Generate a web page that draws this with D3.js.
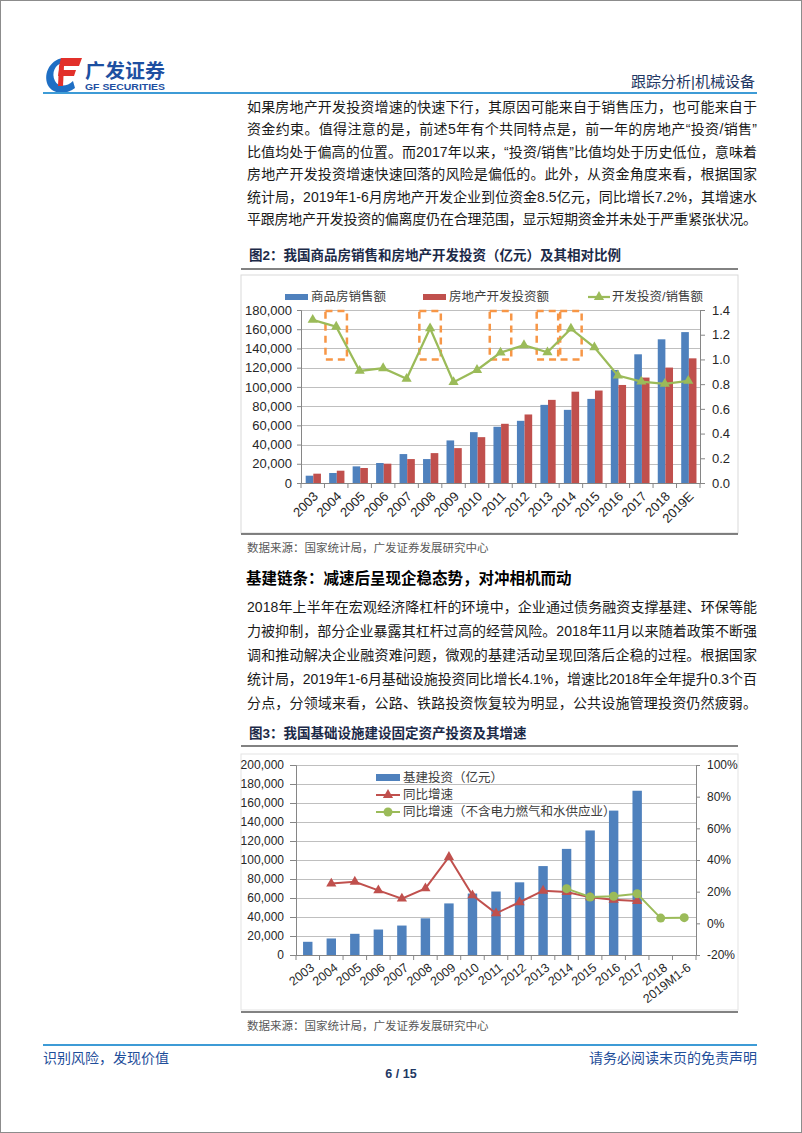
<!DOCTYPE html>
<html>
<head>
<meta charset="utf-8">
<script src="https://cdn.jsdelivr.net/npm/d3@7"></script>
<style>
  html, body { margin: 0; padding: 0; background: #fff; }
  svg text { font-family: "Liberation Sans", Arial, "Noto Sans CJK SC", sans-serif; }
</style>
</head>
<body>
<div id="page"></div>
<script>
// 图2 数据：商品房销售额、房地产开发投资额（亿元）及 投资/销售 比值
const years2 = ['2003','2004','2005','2006','2007','2008','2009','2010','2011','2012','2013','2014','2015','2016','2017','2018','2019E'];
const sales2 = [7600, 10400, 17300, 20800, 30100, 24900, 44300, 52900, 58500, 64700, 81300, 76100, 87500, 117600, 133900, 149500, 157000];
const invest2 = [9700, 12800, 15600, 20100, 24900, 31100, 36300, 47700, 61600, 71300, 86500, 95000, 96200, 102000, 109700, 120100, 129700];
const ratio2 = [1.32, 1.265, 0.907, 0.929, 0.843, 1.252, 0.816, 0.915, 1.055, 1.115, 1.058, 1.249, 1.098, 0.870, 0.821, 0.802, 0.827];
const boxYears2 = ['2004','2008','2011','2013','2014'];
const boxRange2 = [1.0, 1.4];
const ticksL2 = [0, 20000, 40000, 60000, 80000, 100000, 120000, 140000, 160000, 180000];
const ticksR2 = [0, 0.2, 0.4, 0.6, 0.8, 1.0, 1.2, 1.4];

// 图3 数据：基建投资（亿元）与同比增速（%）
const years3 = ['2003','2004','2005','2006','2007','2008','2009','2010','2011','2012','2013','2014','2015','2016','2017','2018','2019M1-6'];
const infra3 = [13900, 17400, 22300, 26800, 31000, 38600, 54300, 64700, 66800, 76500, 93600, 111700, 131100, 152000, 172900, null, null];
const yoy3 = [null, 25.1, 26.3, 20.8, 15.6, 22.1, 41.9, 17.7, 6.3, 13.3, 20.6, 19.8, 16.4, 14.9, 14.1, null, null];
const yoyEx3 = [null, null, null, null, null, null, null, null, null, null, null, 21.9, 16.6, 17.1, 18.7, 3.3, 3.6];
const ticksL3 = [0, 20000, 40000, 60000, 80000, 100000, 120000, 140000, 160000, 180000, 200000];
const ticksR3 = [-20, 0, 20, 40, 60, 80, 100];

// 正文
const para1 = [
  '如果房地产开发投资增速的快速下行，其原因可能来自于销售压力，也可能来自于',
  '资金约束。值得注意的是，前述5年有个共同特点是，前一年的房地产“投资/销售”',
  '比值均处于偏高的位置。而2017年以来，“投资/销售”比值均处于历史低位，意味着',
  '房地产开发投资增速快速回落的风险是偏低的。此外，从资金角度来看，根据国家',
  '统计局，2019年1-6月房地产开发企业到位资金8.5亿元，同比增长7.2%，其增速水',
  '平跟房地产开发投资的偏离度仍在合理范围，显示短期资金并未处于严重紧张状况。'
];
const para2 = [
  '2018年上半年在宏观经济降杠杆的环境中，企业通过债务融资支撑基建、环保等能',
  '力被抑制，部分企业暴露其杠杆过高的经营风险。2018年11月以来随着政策不断强',
  '调和推动解决企业融资难问题，微观的基建活动呈现回落后企稳的过程。根据国家',
  '统计局，2019年1-6月基础设施投资同比增长4.1%，增速比2018年全年提升0.3个百',
  '分点，分领域来看，公路、铁路投资恢复较为明显，公共设施管理投资仍然疲弱。'
];

const FONT = '"Liberation Sans", Arial, "Noto Sans CJK SC", sans-serif';
const BLUE = '#4f81bd', RED = '#c0504d', GREEN = '#9bbb59', ORANGE = '#f79646';

const svg = d3.select('#page').append('svg')
  .attr('width', 802)
  .attr('height', 1133);

// 页面边框
svg.append('rect')
  .attr('x', 0.5).attr('y', 0.5).attr('width', 801).attr('height', 1132)
  .attr('fill', '#fff').attr('stroke', '#8c8c8c');

// ---------- 页眉 ----------
const logo = svg.append('g');
logo.append('path')
  .attr('d', 'M63,58 C49,60 42,76 49,87 C54,94 67,95 75,88 L73,81 C67,87 58,87 55,81 C51,73 55,64 63,63 Z')
  .attr('fill', '#1f6fc4');
logo.append('path').attr('d', 'M61,58 L82,58 L79,66 L59,66 Z').attr('fill', '#e2302a');
logo.append('path').attr('d', 'M59,70 L76,70 L74,76 L58,76 Z').attr('fill', '#e2302a');
logo.append('path').attr('d', 'M59,66 L64,66 L63,86 L58,86 Z').attr('fill', '#e2302a');
logo.append('text')
  .attr('x', 85).attr('y', 71).attr('dominant-baseline', 'central')
  .attr('font-size', 19).attr('font-weight', 'bold').attr('fill', '#1d4fa1')
  .attr('textLength', 80).attr('lengthAdjust', 'spacingAndGlyphs')
  .text('广发证券');
logo.append('text')
  .attr('x', 85).attr('y', 87).attr('dominant-baseline', 'central')
  .attr('font-size', 9).attr('font-weight', 'bold').attr('fill', '#1d4fa1')
  .attr('textLength', 80).attr('lengthAdjust', 'spacingAndGlyphs')
  .text('GF SECURITIES');

svg.append('text')
  .attr('x', 755).attr('y', 81).attr('text-anchor', 'end').attr('dominant-baseline', 'central')
  .attr('font-size', 15).attr('fill', '#1f3864')
  .text('跟踪分析|机械设备');

svg.append('line')
  .attr('x1', 43).attr('x2', 757).attr('y1', 93).attr('y2', 93)
  .attr('stroke', '#3d9bd6').attr('stroke-width', 2);

// ---------- 正文工具 ----------
function drawParagraph(lines, y0, step) {
  svg.append('g').selectAll('text')
    .data(lines)
    .join('text')
    .attr('x', 247)
    .attr('y', (d, i) => y0 + i * step)
    .attr('dominant-baseline', 'central')
    .attr('font-size', 14)
    .attr('fill', '#1a1a1a')
    .attr('textLength', 510)
    .attr('lengthAdjust', 'spacing')
    .text(d => d);
}

function caption(text, y, ruleY) {
  svg.append('text')
    .attr('x', 249).attr('y', y).attr('dominant-baseline', 'central')
    .attr('font-size', 13.5).attr('font-weight', 'bold').attr('fill', '#1c2a48')
    .text(text);
  svg.append('line')
    .attr('x1', 241).attr('x2', 738).attr('y1', ruleY).attr('y2', ruleY)
    .attr('stroke', '#595959').attr('stroke-width', 1.5);
}

function source(y) {
  svg.append('text')
    .attr('x', 247).attr('y', y).attr('dominant-baseline', 'central')
    .attr('font-size', 11.5).attr('fill', '#595959')
    .text('数据来源：国家统计局，广发证券发展研究中心');
}

function styleAxis(g, size) {
  g.attr('font-size', size).attr('font-family', FONT);
  g.select('.domain').attr('stroke', '#868686');
  g.selectAll('.tick line').attr('stroke', '#868686');
  g.selectAll('.tick text').attr('fill', '#262626');
}

drawParagraph(para1, 106.5, 22.5);

// ---------- 图2 ----------
caption('图2：我国商品房销售和房地产开发投资（亿元）及其相对比例', 255, 269);

svg.append('rect')
  .attr('x', 241).attr('y', 275).attr('width', 497).attr('height', 258)
  .attr('fill', 'none').attr('stroke', '#d9d9d9');

const c2 = { left: 301, right: 700, top: 310, bottom: 483 };
const x2 = d3.scaleBand().domain(years2).range([c2.left, c2.right]);
const x2s = d3.scaleBand().domain(['sales', 'invest']).range([x2.bandwidth() * 0.2, x2.bandwidth() * 0.85]);
const y2L = d3.scaleLinear().domain([0, 180000]).range([c2.bottom, c2.top]);
const y2R = d3.scaleLinear().domain([0, 1.4]).range([c2.bottom, c2.top]);
const g2 = svg.append('g');

g2.append('g').selectAll('line')
  .data(ticksL2.filter(d => d > 0))
  .join('line')
  .attr('x1', c2.left).attr('x2', c2.right)
  .attr('y1', d => Math.round(y2L(d)) + 0.5).attr('y2', d => Math.round(y2L(d)) + 0.5)
  .attr('stroke', '#bfbfbf');

g2.append('g').selectAll('rect')
  .data(years2.map((d, i) => ({ year: d, v: sales2[i] })))
  .join('rect')
  .attr('x', d => x2(d.year) + x2s('sales'))
  .attr('width', x2s.bandwidth())
  .attr('y', d => y2L(d.v))
  .attr('height', d => c2.bottom - y2L(d.v))
  .attr('fill', BLUE);

g2.append('g').selectAll('rect')
  .data(years2.map((d, i) => ({ year: d, v: invest2[i] })))
  .join('rect')
  .attr('x', d => x2(d.year) + x2s('invest'))
  .attr('width', x2s.bandwidth())
  .attr('y', d => y2L(d.v))
  .attr('height', d => c2.bottom - y2L(d.v))
  .attr('fill', RED);

// 橙色虚线框
g2.append('g').selectAll('rect')
  .data(boxYears2)
  .join('rect')
  .attr('x', d => x2(d) + 1)
  .attr('width', x2.bandwidth() - 2)
  .attr('y', y2R(boxRange2[1]) + 1)
  .attr('height', y2R(boxRange2[0]) - y2R(boxRange2[1]) - 1)
  .attr('fill', 'none')
  .attr('stroke', ORANGE)
  .attr('stroke-width', 2.5)
  .attr('stroke-dasharray', '7,5');

const line2 = d3.line()
  .x((d, i) => x2(years2[i]) + x2.bandwidth() / 2)
  .y(d => y2R(d));
g2.append('path')
  .datum(ratio2)
  .attr('d', line2)
  .attr('fill', 'none')
  .attr('stroke', GREEN)
  .attr('stroke-width', 2.25);
g2.append('g').selectAll('path')
  .data(ratio2)
  .join('path')
  .attr('d', d3.symbol(d3.symbolTriangle, 45))
  .attr('transform', (d, i) => `translate(${x2(years2[i]) + x2.bandwidth() / 2},${y2R(d)})`)
  .attr('fill', GREEN);

const ax2L = g2.append('g')
  .attr('transform', `translate(${c2.left},0)`)
  .call(d3.axisLeft(y2L).tickValues(ticksL2).tickSize(4).tickPadding(5).tickFormat(d3.format(',')));
styleAxis(ax2L, 13);

const ax2R = g2.append('g')
  .attr('transform', `translate(${c2.right},0)`)
  .call(d3.axisRight(y2R).tickValues(ticksR2).tickSize(5).tickPadding(7).tickFormat(d3.format('.1f')));
styleAxis(ax2R, 13);

g2.append('line')
  .attr('x1', c2.left).attr('x2', c2.right).attr('y1', c2.bottom + 0.5).attr('y2', c2.bottom + 0.5)
  .attr('stroke', '#868686');
g2.append('g').selectAll('line')
  .data(years2.map(d => x2(d)).concat([c2.right]))
  .join('line')
  .attr('x1', d => d).attr('x2', d => d)
  .attr('y1', c2.bottom).attr('y2', c2.bottom + 5)
  .attr('stroke', '#868686');
g2.append('g').selectAll('text')
  .data(years2)
  .join('text')
  .attr('transform', d => `translate(${x2(d) + x2.bandwidth() / 2 + 3},${c2.bottom + 11}) rotate(-45)`)
  .attr('text-anchor', 'end')
  .attr('dominant-baseline', 'central')
  .attr('font-size', 13)
  .attr('fill', '#262626')
  .text(d => d);

// 图例
const lg2 = g2.append('g').attr('font-size', 12.5).attr('fill', '#404040');
lg2.append('rect').attr('x', 285).attr('y', 294).attr('width', 23).attr('height', 6).attr('fill', BLUE);
lg2.append('text').attr('x', 311).attr('y', 297).attr('dominant-baseline', 'central').text('商品房销售额');
lg2.append('rect').attr('x', 423).attr('y', 294).attr('width', 23).attr('height', 6).attr('fill', RED);
lg2.append('text').attr('x', 449).attr('y', 297).attr('dominant-baseline', 'central').text('房地产开发投资额');
lg2.append('line').attr('x1', 588).attr('x2', 610).attr('y1', 297).attr('y2', 297).attr('stroke', GREEN).attr('stroke-width', 2.25);
lg2.append('path').attr('d', d3.symbol(d3.symbolTriangle, 45)).attr('transform', 'translate(599,297)').attr('fill', GREEN);
lg2.append('text').attr('x', 612).attr('y', 297).attr('dominant-baseline', 'central').text('开发投资/销售额');

svg.append('line')
  .attr('x1', 241).attr('x2', 738).attr('y1', 534).attr('y2', 534)
  .attr('stroke', '#595959').attr('stroke-width', 1.5);
source(548);

// ---------- 基建链条 ----------
svg.append('text')
  .attr('x', 246).attr('y', 578).attr('dominant-baseline', 'central')
  .attr('font-size', 15.5).attr('font-weight', 'bold').attr('fill', '#000')
  .text('基建链条：减速后呈现企稳态势，对冲相机而动');

drawParagraph(para2, 607, 24);

// ---------- 图3 ----------
caption('图3：我国基础设施建设固定资产投资及其增速', 733, 746);

svg.append('rect')
  .attr('x', 241).attr('y', 754).attr('width', 497).attr('height', 256)
  .attr('fill', 'none').attr('stroke', '#e3e3e3');

const c3 = { left: 296, right: 696, top: 765, bottom: 955 };
const x3 = d3.scaleBand().domain(years3).range([c3.left, c3.right]);
const y3L = d3.scaleLinear().domain([0, 200000]).range([c3.bottom, c3.top]);
const y3R = d3.scaleLinear().domain([-20, 100]).range([c3.bottom, c3.top]);
const g3 = svg.append('g');

g3.append('g').selectAll('line')
  .data(ticksL3.filter(d => d > 0))
  .join('line')
  .attr('x1', c3.left).attr('x2', c3.right)
  .attr('y1', d => Math.round(y3L(d)) + 0.5).attr('y2', d => Math.round(y3L(d)) + 0.5)
  .attr('stroke', '#bfbfbf');

const barW3 = x3.bandwidth() * 0.4;
g3.append('g').selectAll('rect')
  .data(years3.map((d, i) => ({ year: d, v: infra3[i] })).filter(d => d.v != null))
  .join('rect')
  .attr('x', d => x3(d.year) + (x3.bandwidth() - barW3) / 2)
  .attr('width', barW3)
  .attr('y', d => y3L(d.v))
  .attr('height', d => c3.bottom - y3L(d.v))
  .attr('fill', BLUE);

const cx3 = i => x3(years3[i]) + x3.bandwidth() / 2;
const line3 = d3.line()
  .defined(d => d != null)
  .x((d, i) => cx3(i))
  .y(d => y3R(d));

g3.append('path').datum(yoy3).attr('d', line3)
  .attr('fill', 'none').attr('stroke', RED).attr('stroke-width', 2);
g3.append('g').selectAll('path')
  .data(yoy3.map((v, i) => ({ v, i })).filter(d => d.v != null))
  .join('path')
  .attr('d', d3.symbol(d3.symbolTriangle, 45))
  .attr('transform', d => `translate(${cx3(d.i)},${y3R(d.v)})`)
  .attr('fill', RED);

g3.append('path').datum(yoyEx3).attr('d', line3)
  .attr('fill', 'none').attr('stroke', GREEN).attr('stroke-width', 2);
g3.append('g').selectAll('circle')
  .data(yoyEx3.map((v, i) => ({ v, i })).filter(d => d.v != null))
  .join('circle')
  .attr('cx', d => cx3(d.i))
  .attr('cy', d => y3R(d.v))
  .attr('r', 4.5)
  .attr('fill', GREEN);

const ax3L = g3.append('g')
  .attr('transform', `translate(${c3.left},0)`)
  .call(d3.axisLeft(y3L).tickValues(ticksL3).tickSize(6).tickPadding(6).tickFormat(d3.format(',')));
styleAxis(ax3L, 12);

const ax3R = g3.append('g')
  .attr('transform', `translate(${c3.right},0)`)
  .call(d3.axisRight(y3R).tickValues(ticksR3).tickSize(4).tickPadding(7).tickFormat(d => d + '%'));
styleAxis(ax3R, 12);

g3.append('line')
  .attr('x1', c3.left).attr('x2', c3.right).attr('y1', c3.bottom + 0.5).attr('y2', c3.bottom + 0.5)
  .attr('stroke', '#868686');
g3.append('g').selectAll('line')
  .data(years3.map(d => x3(d)).concat([c3.right]))
  .join('line')
  .attr('x1', d => d).attr('x2', d => d)
  .attr('y1', c3.bottom).attr('y2', c3.bottom + 5)
  .attr('stroke', '#868686');
g3.append('g').selectAll('text')
  .data(years3)
  .join('text')
  .attr('transform', d => `translate(${x3(d) + x3.bandwidth() / 2 + 5},${c3.bottom + 11}) rotate(-38)`)
  .attr('text-anchor', 'end')
  .attr('dominant-baseline', 'central')
  .attr('font-size', 12.5)
  .attr('fill', '#262626')
  .text(d => d);

const lg3 = g3.append('g').attr('font-size', 12.5).attr('fill', '#404040');
lg3.append('rect').attr('x', 376).attr('y', 774).attr('width', 24).attr('height', 7).attr('fill', BLUE);
lg3.append('text').attr('x', 403).attr('y', 777.5).attr('dominant-baseline', 'central').text('基建投资（亿元）');
lg3.append('line').attr('x1', 376).attr('x2', 400).attr('y1', 795).attr('y2', 795).attr('stroke', RED).attr('stroke-width', 2);
lg3.append('path').attr('d', d3.symbol(d3.symbolTriangle, 45)).attr('transform', 'translate(388,795)').attr('fill', RED);
lg3.append('text').attr('x', 403).attr('y', 795).attr('dominant-baseline', 'central').text('同比增速');
lg3.append('line').attr('x1', 376).attr('x2', 400).attr('y1', 812).attr('y2', 812).attr('stroke', GREEN).attr('stroke-width', 2);
lg3.append('circle').attr('cx', 388).attr('cy', 812).attr('r', 4.5).attr('fill', GREEN);
lg3.append('text').attr('x', 403).attr('y', 812).attr('dominant-baseline', 'central').text('同比增速（不含电力燃气和水供应业）');

svg.append('line')
  .attr('x1', 241).attr('x2', 738).attr('y1', 1012).attr('y2', 1012)
  .attr('stroke', '#595959').attr('stroke-width', 1.5);
source(1026);

// ---------- 页脚 ----------
svg.append('line')
  .attr('x1', 43).attr('x2', 757).attr('y1', 1045).attr('y2', 1045)
  .attr('stroke', '#3d9bd6').attr('stroke-width', 2);
svg.append('text')
  .attr('x', 43).attr('y', 1058).attr('dominant-baseline', 'central')
  .attr('font-size', 14).attr('fill', '#1f4e9a')
  .text('识别风险，发现价值');
svg.append('text')
  .attr('x', 757).attr('y', 1058).attr('text-anchor', 'end').attr('dominant-baseline', 'central')
  .attr('font-size', 14).attr('fill', '#1f4e9a')
  .text('请务必阅读末页的免责声明');
svg.append('text')
  .attr('x', 401).attr('y', 1074).attr('text-anchor', 'middle').attr('dominant-baseline', 'central')
  .attr('font-size', 12.5).attr('font-weight', 'bold').attr('fill', '#1f3864')
  .text('6 / 15');
</script>
</body>
</html>
